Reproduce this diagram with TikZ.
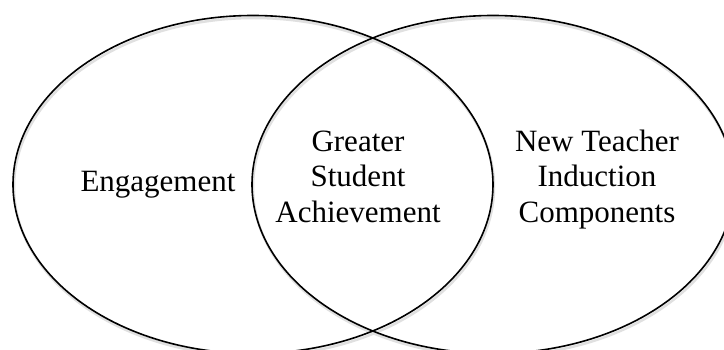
\documentclass[tikz,border=0pt]{standalone}
\usepackage{fontspec}
\setmainfont{Liberation Serif}
\begin{document}
\begin{tikzpicture}[x=1pt,y=-1pt,
  venn/.style={draw=black,line width=1.6pt},
  vshadow/.style={draw=black!12,line width=2.5pt},
  label/.style={font=\fontsize{31}{36}\selectfont,align=center,inner sep=0pt,anchor=base}]
\useasboundingbox (0,0) rectangle (724,350);
\clip (0,0) rectangle (724,350);
\fill[white] (0,0) rectangle (724,350);
% soft shadows
\draw[vshadow] (254,187) ellipse [x radius=240,y radius=169];
\draw[vshadow] (494,187) ellipse [x radius=241,y radius=169];
% circles
\draw[venn] (253,184.5) ellipse [x radius=240,y radius=169];
\draw[venn] (493,184.5) ellipse [x radius=241,y radius=169];
% texts
\node[label] (eng) at (158,192) {Engagement};
\node[label] (mid) at (358,223) {Greater\\Student\\Achievement};
\node[label] (ntc) at (597,223) {New Teacher\\Induction\\Components};
\end{tikzpicture}
\end{document}
